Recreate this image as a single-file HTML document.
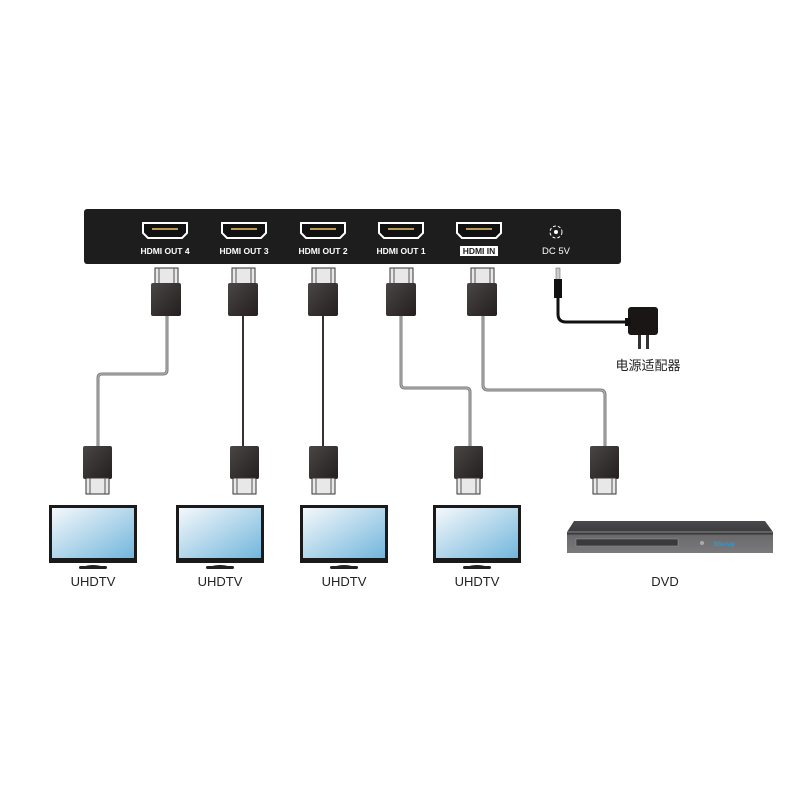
<!DOCTYPE html>
<html><head><meta charset="utf-8"><style>
body{margin:0;background:#fff;width:800px;height:800px;overflow:hidden}
svg text{font-family:"Liberation Sans","Noto Sans CJK SC",sans-serif}
</style></head><body>
<svg width="800" height="800" viewBox="0 0 800 800" xmlns="http://www.w3.org/2000/svg">
<defs>
<linearGradient id="pb" x1="0" y1="0" x2="1" y2="1"><stop offset="0" stop-color="#4a4646"/><stop offset="1" stop-color="#241e1e"/></linearGradient>
<linearGradient id="scr" x1="0" y1="0" x2="1" y2="1"><stop offset="0" stop-color="#f4f8fb"/><stop offset="1" stop-color="#72b6dc"/></linearGradient>
<linearGradient id="dvd" x1="0" y1="0" x2="0" y2="1"><stop offset="0" stop-color="#4a4a4c"/><stop offset="0.4" stop-color="#3a3a3c"/><stop offset="0.45" stop-color="#6a6a6c"/><stop offset="1" stop-color="#7a7a7c"/></linearGradient>
<g id="upplug"><rect x="-11" y="0" width="23" height="16" fill="#e8e8e8" stroke="#333" stroke-width="1"/><line x1="-7" y1="0" x2="-7" y2="16" stroke="#555"/><line x1="8" y1="0" x2="8" y2="16" stroke="#555"/><rect x="-15" y="15" width="30" height="33" rx="2" fill="url(#pb)"/></g>
<g id="dnplug"><rect x="-14" y="0" width="29" height="33" rx="2" fill="url(#pb)"/><rect x="-11" y="32" width="23" height="16" fill="#e8e8e8" stroke="#333" stroke-width="1"/><line x1="-7" y1="32" x2="-7" y2="48" stroke="#555"/><line x1="8" y1="32" x2="8" y2="48" stroke="#555"/></g>
<g id="tv"><rect x="0" y="0" width="88" height="58" fill="#1a1a1a"/><rect x="3" y="3" width="82" height="50" fill="url(#scr)"/><path d="M33 62 Q44 58 55 62 Z" fill="#222"/><rect x="30" y="61" width="28" height="3" rx="1.5" fill="#222"/></g>
<g id="port"><path d="M-22 -7 H22 V3 L17 8 H-17 L-22 3 Z" fill="#111" stroke="#fff" stroke-width="2"/><rect x="-13" y="-2" width="26" height="2" fill="#b89a50"/></g>
</defs>
<!-- device -->
<rect x="84" y="209" width="537" height="55" rx="3" fill="#1d1d1d"/>
<use href="#port" x="165" y="230"/><use href="#port" x="244" y="230"/><use href="#port" x="323" y="230"/><use href="#port" x="401" y="230"/><use href="#port" x="479" y="230"/>
<g fill="#fff" font-size="8.5" font-weight="bold" text-anchor="middle">
<text x="165" y="254">HDMI OUT 4</text><text x="244" y="254">HDMI OUT 3</text><text x="323" y="254">HDMI OUT 2</text><text x="401" y="254">HDMI OUT 1</text>
<rect x="460" y="246" width="38" height="10" fill="#fff"/><text x="479" y="254" fill="#1d1d1d">HDMI IN</text>
<text x="556" y="254" font-size="9.5" font-weight="normal">DC 5V</text></g>
<circle cx="556" cy="232" r="6" fill="none" stroke="#fff" stroke-width="1" stroke-dasharray="3 2"/><circle cx="556" cy="232" r="2" fill="#fff"/>
<!-- cables -->
<g fill="none" stroke-linecap="round">
<path d="M167 316 V370 Q167 374 163 374 H102 Q98 374 98 378 V447" stroke="#7a7a7a" stroke-width="3"/>
<path d="M167 316 V370 Q167 374 163 374 H102 Q98 374 98 378 V447" stroke="#bbb" stroke-width="1"/>
<path d="M243 316 V446" stroke="#3a3030" stroke-width="2"/>
<path d="M323 316 V446" stroke="#3a3030" stroke-width="2"/>
<path d="M401 316 V384 Q401 388 405 388 H466 Q470 388 470 392 V446" stroke="#7a7a7a" stroke-width="3"/>
<path d="M401 316 V384 Q401 388 405 388 H466 Q470 388 470 392 V446" stroke="#bbb" stroke-width="1"/>
<path d="M483 316 V385 Q483 390 488 390 H600 Q605 390 605 395 V446" stroke="#7a7a7a" stroke-width="3"/>
<path d="M483 316 V385 Q483 390 488 390 H600 Q605 390 605 395 V446" stroke="#bbb" stroke-width="1"/>
<path d="M558 298 V314 Q558 322 566 322 H630" stroke="#111" stroke-width="3"/>
</g>
<use href="#upplug" x="166" y="268"/><use href="#upplug" x="243" y="268"/><use href="#upplug" x="323" y="268"/><use href="#upplug" x="401" y="268"/><use href="#upplug" x="482" y="268"/>
<use href="#dnplug" x="97" y="446"/><use href="#dnplug" x="244" y="446"/><use href="#dnplug" x="323" y="446"/><use href="#dnplug" x="468" y="446"/><use href="#dnplug" x="604" y="446"/>
<!-- DC plug & adapter -->
<rect x="556" y="268" width="4" height="12" fill="#ccc" stroke="#555" stroke-width="0.5"/>
<rect x="554" y="279" width="8" height="19" fill="#111"/>
<rect x="628" y="307" width="30" height="28" rx="3" fill="#1a1616"/>
<rect x="625" y="318" width="6" height="8" fill="#111"/>
<rect x="638" y="335" width="3" height="14" fill="#333"/><rect x="646" y="335" width="3" height="14" fill="#333"/>
<text x="648" y="370" font-size="13" text-anchor="middle" fill="#222">电源适配器</text>
<!-- TVs -->
<use href="#tv" x="49" y="505"/><use href="#tv" x="176" y="505"/><use href="#tv" x="300" y="505"/><use href="#tv" x="433" y="505"/>
<g font-size="13" text-anchor="middle" fill="#222">
<text x="93" y="586">UHDTV</text><text x="220" y="586">UHDTV</text><text x="344" y="586">UHDTV</text><text x="477" y="586">UHDTV</text>
<text x="665" y="586">DVD</text></g>
<!-- DVD -->
<path d="M574 521 H765 L773 532 V553 H567 V532 Z" fill="url(#dvd)"/>
<path d="M567 532 H773" stroke="#888" stroke-width="1"/>
<rect x="576" y="539" width="102" height="7" fill="#3a3a3a" stroke="#999" stroke-width="0.5"/>
<circle cx="702" cy="543" r="2" fill="#aaa"/>
<text x="714" y="546" font-size="6" fill="#2a9ad8" font-weight="bold">Blu-ray</text>
</svg>
</body></html>
